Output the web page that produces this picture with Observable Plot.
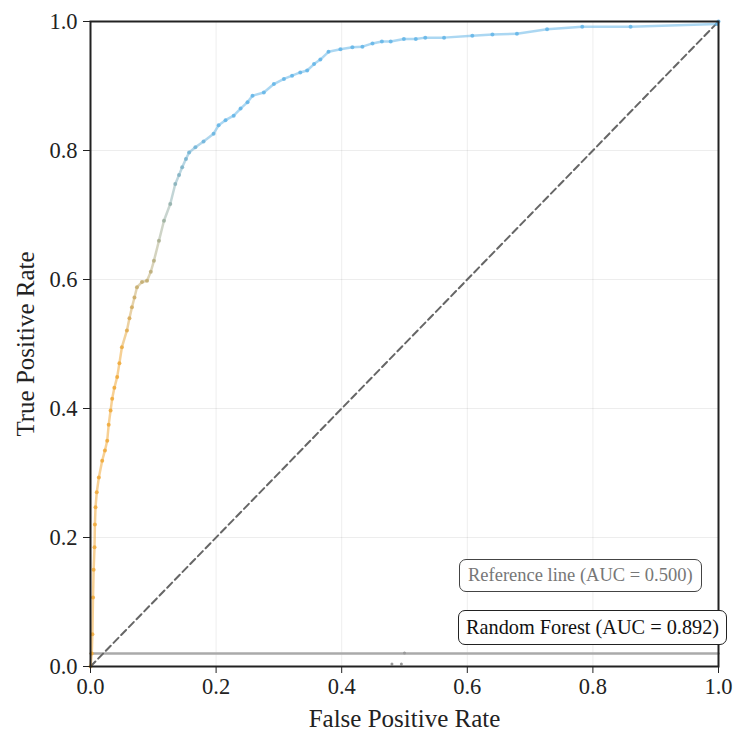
<!DOCTYPE html>
<html>
<head>
<meta charset="utf-8">
<script src="https://cdn.jsdelivr.net/npm/d3@7"></script>
<script src="https://cdn.jsdelivr.net/npm/@observablehq/plot@0.6"></script>
<style>
  html, body { margin: 0; padding: 0; background: #fff; }
  #wrap { position: relative; width: 746px; height: 741px; font-family: "Liberation Serif", serif; }
  .lg { position: absolute; box-sizing: border-box; border-radius: 7px; background: #fff;
        font-family: "Liberation Serif", serif; white-space: nowrap; display: flex; align-items: center; }
</style>
</head>
<body>
<div id="wrap"></div>
<script>
// ROC curve points (False Positive Rate, True Positive Rate)
const fpr = [0, 0.002, 0.003, 0.004, 0.005, 0.0064, 0.007, 0.008, 0.010, 0.0133, 0.0186, 0.023, 0.0266, 0.029, 0.032, 0.0345, 0.038, 0.0425, 0.046, 0.050, 0.058, 0.062, 0.066, 0.070, 0.074, 0.082, 0.090, 0.096, 0.101, 0.109, 0.117, 0.127, 0.135, 0.141, 0.146, 0.152, 0.157, 0.167, 0.180, 0.196, 0.204, 0.215, 0.228, 0.239, 0.250, 0.258, 0.276, 0.292, 0.308, 0.321, 0.334, 0.345, 0.356, 0.366, 0.379, 0.398, 0.417, 0.433, 0.449, 0.464, 0.478, 0.499, 0.518, 0.533, 0.563, 0.608, 0.640, 0.679, 0.727, 0.783, 0.860, 0.998, 1];
const tpr = [0, 0.02, 0.05, 0.107, 0.15, 0.185, 0.22, 0.247, 0.27, 0.293, 0.319, 0.335, 0.350, 0.375, 0.397, 0.415, 0.432, 0.449, 0.47, 0.495, 0.521, 0.54, 0.557, 0.572, 0.588, 0.596, 0.598, 0.612, 0.629, 0.660, 0.691, 0.717, 0.748, 0.762, 0.774, 0.787, 0.797, 0.805, 0.814, 0.826, 0.839, 0.847, 0.854, 0.865, 0.875, 0.885, 0.890, 0.903, 0.911, 0.916, 0.921, 0.924, 0.934, 0.941, 0.953, 0.957, 0.960, 0.961, 0.966, 0.969, 0.969, 0.973, 0.973, 0.975, 0.975, 0.978, 0.980, 0.981, 0.988, 0.992, 0.992, 0.996, 1];
// Diagonal reference line
const refX = [0, 1];
const refY = [0, 1];
// Faint horizontal baseline near the bottom
const baseX = [0, 1];
const baseY = [0.02, 0.02];
// Stray small points near the bottom
const strayX = [0.48, 0.495, 0.5];
const strayY = [0.004, 0.004, 0.021];
const ticks = [0, 0.2, 0.4, 0.6, 0.8, 1.0];
const legendItems = ["Reference line (AUC = 0.500)", "Random Forest (AUC = 0.892)"];

const pts = fpr.map((x, i) => ({x, y: tpr[i]}));
const segs = pts.slice(1).map((p, i) => ({x1: pts[i].x, y1: pts[i].y, x2: p.x, y2: p.y, c: (pts[i].y + p.y) / 2}));

const chart = Plot.plot({
  width: 746,
  height: 741,
  marginLeft: 90,
  marginRight: 28,
  marginTop: 21,
  marginBottom: 75,
  style: {fontFamily: "Liberation Serif, serif", fontSize: "22px", color: "#222", background: "#fff"},
  x: {domain: [0, 1], label: null},
  y: {domain: [0, 1], label: null},
  color: {type: "linear", domain: [0.48, 0.84], range: ["#f0aa3c", "#66b6e8"], clamp: true, interpolate: "rgb"},
  marks: [
    Plot.gridX(ticks, {stroke: "#000", strokeOpacity: 0.07}),
    Plot.gridY(ticks, {stroke: "#000", strokeOpacity: 0.07}),
    Plot.line(baseX.map((x, i) => ({x, y: baseY[i]})), {x: "x", y: "y", stroke: "#aaa", strokeWidth: 2.5}),
    Plot.dot(strayX.map((x, i) => ({x, y: strayY[i]})), {x: "x", y: "y", r: 1.5, fill: "#999"}),
    Plot.line(refX.map((x, i) => ({x, y: refY[i]})), {x: "x", y: "y", stroke: "#666", strokeWidth: 2, strokeDasharray: "7,4"}),
    Plot.link(segs, {x1: "x1", y1: "y1", x2: "x2", y2: "y2", stroke: "c", strokeWidth: 2.5, strokeOpacity: 0.55, strokeLinecap: "round"}),
    Plot.dot(pts, {x: "x", y: "y", fill: "y", r: 2, fillOpacity: 0.85}),
    Plot.frame({stroke: "#222", strokeWidth: 2}),
    Plot.axisX({ticks: ticks, tickFormat: d3.format(".1f"), label: null, tickSize: 7, tickPadding: 5, fontSize: 22.5}),
    Plot.axisY({ticks: ticks, tickFormat: d3.format(".1f"), label: null, tickSize: 7, tickPadding: 6, fontSize: 22.5}),
    Plot.text(["False Positive Rate"], {frameAnchor: "bottom", dy: 60, fontSize: 25, fill: "#222"}),
    Plot.text(["True Positive Rate"], {frameAnchor: "left", textAnchor: "middle", dx: -65, rotate: -90, fontSize: 25, fill: "#222"})
  ]
});

const wrap = document.getElementById("wrap");
wrap.appendChild(chart);

const lg1 = document.createElement("div");
lg1.className = "lg";
lg1.textContent = legendItems[0];
Object.assign(lg1.style, {left: "459px", top: "559px", height: "33px", padding: "0 8px", border: "1.5px solid #444", color: "#777", fontSize: "18.5px"});
wrap.appendChild(lg1);

const lg2 = document.createElement("div");
lg2.className = "lg";
lg2.textContent = legendItems[1];
Object.assign(lg2.style, {left: "458px", top: "610px", height: "35px", padding: "0 7px", border: "1.5px solid #222", color: "#111", fontSize: "20.3px"});
wrap.appendChild(lg2);
</script>
</body>
</html>
